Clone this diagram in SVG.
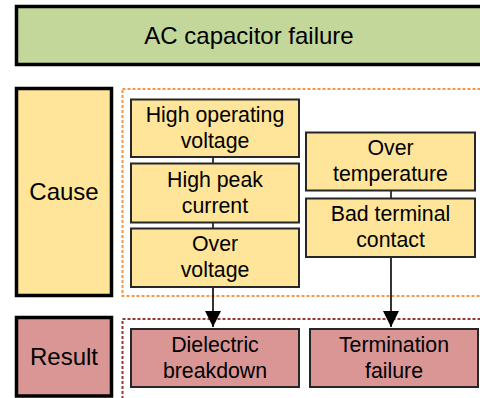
<svg xmlns="http://www.w3.org/2000/svg" width="480" height="398" viewBox="0 0 480 398">
<defs>
<style>
text{font-family:"Liberation Sans",Arial,sans-serif;fill:#000;text-anchor:middle}
.big{font-size:24px}
.sm{font-size:21.3px}
.hdr{stroke:#000;stroke-width:3.5}
.node{stroke:#262626;stroke-width:2}
.y{fill:#ffe599}
.g{fill:#c4d79b}
.r{fill:#da9694}
.conn{stroke:#000;stroke-width:1.5;fill:none}
</style>
<marker id="ah" viewBox="0 0 16 16" refX="16" refY="8" markerWidth="16" markerHeight="16" markerUnits="userSpaceOnUse" orient="auto">
<path d="M0,0 L16,8 L0,16 z" fill="#000"/>
</marker>
</defs>
<rect width="480" height="398" fill="#fff"/>
<rect x="122.5" y="89" width="370" height="207" fill="none" stroke="#f79646" stroke-width="2" stroke-dasharray="3,2"/>
<rect x="122.5" y="319" width="370" height="80" fill="none" stroke="#953735" stroke-width="2" stroke-dasharray="3,2"/>
<g id="title"><rect class="hdr g" x="16.5" y="6.5" width="480" height="58"/><text class="big" x="249" y="44">AC capacitor failure</text></g>
<g id="cause"><rect class="hdr y" x="16.5" y="88.5" width="95" height="207"/><text class="big" x="64" y="200">Cause</text></g>
<g id="result"><rect class="hdr r" x="16.5" y="317.5" width="95" height="78.5"/><text class="big" x="64" y="365">Result</text></g>
<g id="connectors">
<line class="conn" x1="213" y1="157" x2="213" y2="163"/>
<line class="conn" x1="213" y1="223" x2="213" y2="228"/>
<line class="conn" x1="391" y1="191" x2="391" y2="198"/>
<line class="conn" x1="213" y1="287" x2="213" y2="327" marker-end="url(#ah)" style="stroke-width:1.6"/>
<line class="conn" x1="391" y1="257" x2="391" y2="327" marker-end="url(#ah)" style="stroke-width:1.6"/>
</g>
<g id="n1"><rect class="node y" x="131" y="99.5" width="168" height="57.5"/><text class="sm" x="215" y="122">High operating</text><text class="sm" x="215" y="148">voltage</text></g>
<g id="n2"><rect class="node y" x="131" y="163.5" width="168" height="59"/><text class="sm" x="215" y="186.5">High peak</text><text class="sm" x="215" y="212.5">current</text></g>
<g id="n3"><rect class="node y" x="131" y="228.5" width="168" height="58.5"/><text class="sm" x="215" y="251">Over</text><text class="sm" x="215" y="277">voltage</text></g>
<g id="n4"><rect class="node y" x="306" y="132.5" width="169" height="58"/><text class="sm" x="390.5" y="155">Over</text><text class="sm" x="390.5" y="181">temperature</text></g>
<g id="n5"><rect class="node y" x="306" y="198.5" width="169" height="58.5"/><text class="sm" x="390.5" y="221">Bad terminal</text><text class="sm" x="390.5" y="247">contact</text></g>
<g id="n6"><rect class="node r" x="131" y="329" width="168" height="58"/><text class="sm" x="215" y="352">Dielectric</text><text class="sm" x="215" y="378">breakdown</text></g>
<g id="n7"><rect class="node r" x="310" y="329" width="168" height="58"/><text class="sm" x="394" y="352">Termination</text><text class="sm" x="394" y="378">failure</text></g>
</svg>
